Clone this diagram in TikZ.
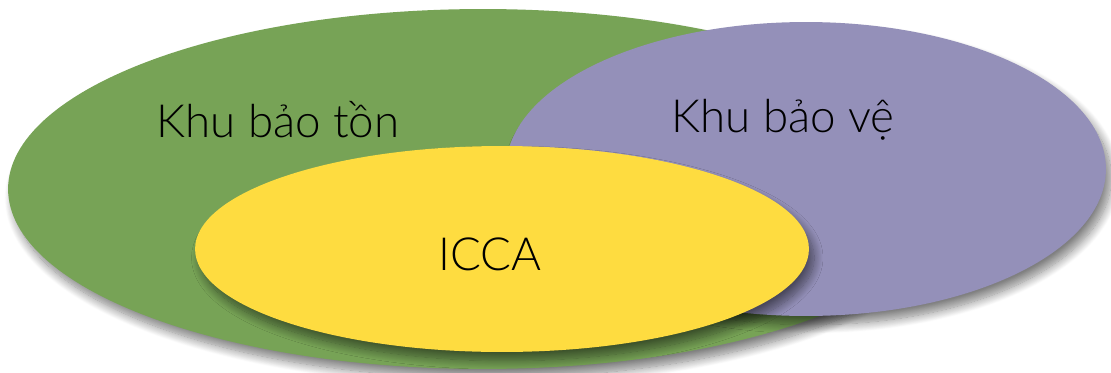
\documentclass[tikz,border=0pt]{standalone}
\usepackage{fontspec}
\setmainfont{Lato Light}
\usepackage{xcolor}
\usetikzlibrary{shapes.geometric, shadows.blur}

\definecolor{zonegreen}{HTML}{77A356}
\definecolor{zonepurple}{HTML}{9490B9}
\definecolor{zoneyellow}{HTML}{FEDC40}

\begin{document}
\begin{tikzpicture}[
    x=0.02cm, y=-0.02cm,
    zone/.style={ellipse, inner sep=0pt, draw=none,
        blur shadow={shadow xshift=3pt, shadow yshift=-5pt, shadow blur steps=14, shadow blur radius=5pt, shadow opacity=50}},
    zonetext/.style={font=\fontsize{26}{30}\selectfont, text=black}
]
\useasboundingbox (0,0) rectangle (1111,372);

% Vung lon
\node[zone, fill=zonegreen, minimum width=19.0cm, minimum height=7.2cm] (tonzone) at (483,189) {};
\node[zone, fill=zonepurple, minimum width=12.0cm, minimum height=5.88cm] (vezone) at (806,169) {};
\node[zone, fill=zoneyellow, minimum width=12.28cm, minimum height=4.12cm] (icczone) at (502,249) {};

% Nhan
\node[zonetext] (tonlabel) at (278,120) {Khu bảo tồn};
\node[zonetext] (velabel) at (783,120) {Khu bảo vệ};
\node[zonetext] (icclabel) at (490,254) {ICCA};
\end{tikzpicture}
\end{document}
